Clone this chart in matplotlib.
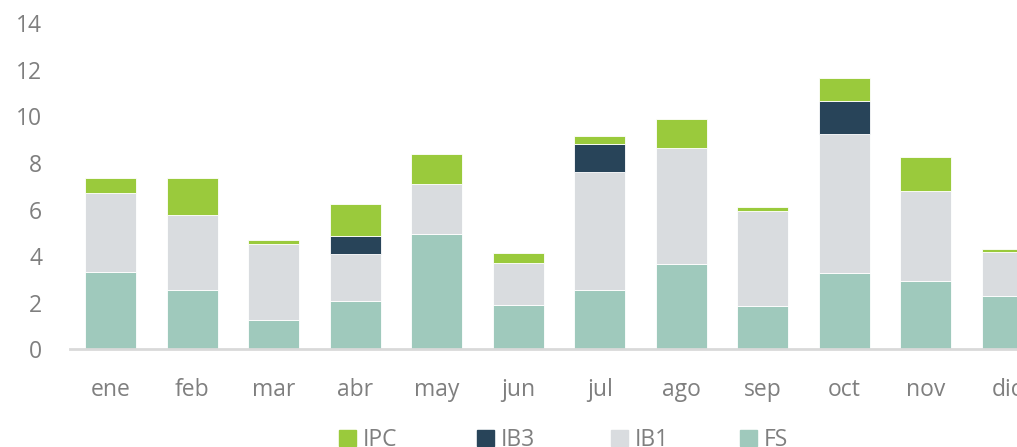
import matplotlib
matplotlib.use('Agg')
import matplotlib.pyplot as plt
from matplotlib.patches import Patch
import numpy as np

months=['ene','feb','mar','abr','may','jun','jul','ago','sep','oct','nov','dic']
fs=[3.32,2.54,1.26,2.09,4.95,1.91,2.54,3.66,1.87,3.27,2.93,2.29]
ib1=[3.39,3.22,3.27,2.00,2.16,1.79,5.06,4.97,4.07,5.98,3.88,1.90]
ib3=[0,0,0,0.76,0,0,1.21,0,0,1.42,0,0]
ipc=[0.63,1.58,0.16,1.39,1.26,0.42,0.33,1.28,0.17,0.97,1.43,0.10]

col_fs='#9FC9BC'
col_ib1='#D9DCDF'
col_ib3='#284459'
col_ipc='#9ACA3C'
txt='#7f7f7f'

plt.rcParams['font.family']=['Open Sans','DejaVu Sans']

fig=plt.figure(figsize=(10.17,4.47),dpi=100)
ax=fig.add_axes([70/1017,0.2186,978/1017,0.7293])

x=np.arange(len(months))
w=0.625
b=np.zeros(len(months))
series=[('FS',fs,col_fs),('IB1',ib1,col_ib1),('IB3',ib3,col_ib3),('IPC',ipc,col_ipc)]
for name,vals,c in series:
    v=np.array(vals)
    ax.bar(x,v,w,bottom=b,color=c,edgecolor='white',linewidth=0.6)
    b=b+v

ax.set_xlim(-0.5,11.5)
ax.set_ylim(0,14)
ax.set_yticks(range(0,15,2))
ax.set_xticks(x)
ax.set_xticklabels(months)
ax.tick_params(axis='both',length=0,labelsize=16.5,colors=txt)
ax.tick_params(axis='y',pad=20)
ax.tick_params(axis='x',pad=21)
for s in ['top','right','left']:
    ax.spines[s].set_visible(False)
ax.spines['bottom'].set_color('#d9d9d9')
ax.spines['bottom'].set_linewidth(2)

# legend, one entry per slot like the original
leg_x=[339,477,611,740]
for (name,c),lx in zip([('IPC',col_ipc),('IB3',col_ib3),('IB1',col_ib1),('FS',col_fs)],leg_x):
    fig.legend(handles=[Patch(color=c,label=name)],loc='center left',
               bbox_to_anchor=(lx/1017,(447-440)/447),frameon=False,
               fontsize=16.5,labelcolor=txt,handlelength=0.75,handleheight=0.75,
               handletextpad=0.3,borderpad=0,borderaxespad=0)

fig.savefig('out.png',dpi=100)
